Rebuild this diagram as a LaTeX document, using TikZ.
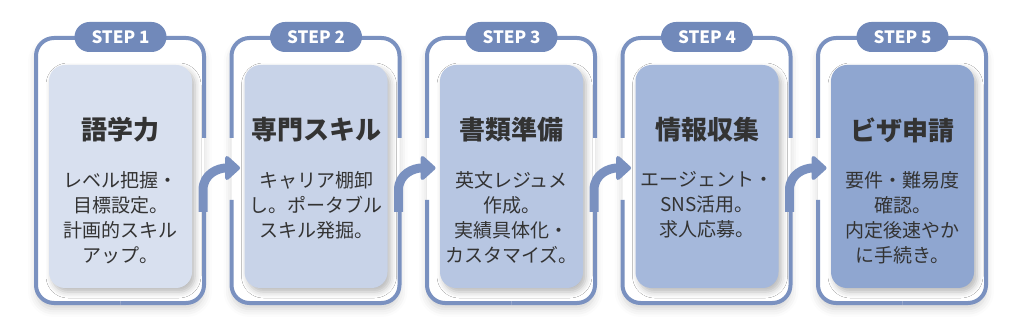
\documentclass[tikz,border=0pt]{standalone}
\usepackage{fontspec}
\setmainfont{Noto Sans CJK JP}
\usetikzlibrary{arrows.meta,shadows.blur}
\definecolor{framec}{HTML}{7A91C0}
\definecolor{badgec}{HTML}{7189BA}
\definecolor{txtc}{HTML}{333333}
\definecolor{fillA}{HTML}{D8E0EF}
\definecolor{fillB}{HTML}{C8D3E8}
\definecolor{fillC}{HTML}{B7C6E2}
\definecolor{fillD}{HTML}{A5B8DB}
\definecolor{fillE}{HTML}{8FA6D0}
\begin{document}
\begin{tikzpicture}[x=1pt,y=-1pt,
  frameline/.style={draw=framec,line width=4pt,rounded corners=18pt},
  framebg/.style={fill=white,rounded corners=18pt,blur shadow={shadow xshift=0pt,shadow yshift=-6pt,shadow blur radius=8pt,shadow opacity=18}},
  innerbox/.style={rounded corners=16pt,minimum width=143pt,minimum height=223pt,inner sep=0pt,blur shadow={shadow xshift=3pt,shadow yshift=-4pt,shadow blur radius=6pt,shadow opacity=28}},
  badge/.style={fill=badgec,rounded corners=15pt,minimum width=92pt,minimum height=30pt,inner sep=0pt,text=white,font=\fontsize{17}{20}\selectfont\bfseries},
  titletext/.style={text=txtc,inner sep=0pt,font=\fontsize{26}{30}\selectfont\bfseries},
  bodytext/.style={text=txtc,inner sep=0pt,align=center,font=\fontsize{19}{25}\selectfont},
  flowarrow/.style={draw=framec,line width=9pt,-{Triangle[length=16pt,width=28pt,round]}}
]
\useasboundingbox (0,0) rectangle (1024,336);
\foreach \k/\fc/\ti/\bo in {
  1/fillA/語学力/{レベル把握・\\目標設定。\\計画的スキル\\アップ。},
  2/fillB/専門スキル/{キャリア棚卸\\し。ポータブル\\スキル発掘。},
  3/fillC/書類準備/{英文レジュメ\\作成。\\実績具体化・\\カスタマイズ。},
  4/fillD/情報収集/{エージェント・\\SNS活用。\\求人応募。},
  5/fillE/ビザ申請/{要件・難易度\\確認。\\内定後速やか\\に手続き。}}{
  \pgfmathsetmacro{\L}{36+195.5*(\k-1)}
  \pgfmathsetmacro{\R}{\L+168}
  \pgfmathsetmacro{\C}{\L+84.5}
  \path[framebg] (\L,38) rectangle (\R,303);
  % top + right side
  \ifnum\k<5
    \draw[frameline] (\C,38) -- (\R,38) -- (\R,138);
    \draw[frameline] (\R,200) -- (\R,303) -- (\C,303);
  \else
    \draw[frameline] (\C,38) -- (\R,38) -- (\R,303) -- (\C,303);
  \fi
  \ifnum\k>1
    \draw[frameline] (\C,303) -- (\L,303) -- (\L,200);
    \draw[frameline] (\L,138) -- (\L,38) -- (\C,38);
  \else
    \draw[frameline] (\C,303) -- (\L,303) -- (\L,38) -- (\C,38);
  \fi
  \node[badge] (badge\k) at (\C,37) {STEP \k};
  \node[innerbox,fill=\fc] (box\k) at (\C,176.5) {};
  \node[titletext] (title\k) at (\C,130) {\ti};
  \node[bodytext,anchor=north] (body\k) at (\C,171) {\bo};
  \coordinate (astart\k) at (\R-1,212);
  \coordinate (abend\k) at (\R-1,190);
  \coordinate (atip\k) at (\R+36,168);
}
\foreach \k in {1,2,3,4}{
  \draw[flowarrow] (astart\k) -- (abend\k) .. controls ([yshift=16pt]abend\k) and ([xshift=-22pt]atip\k) .. (atip\k);
}
\end{tikzpicture}
\end{document}
